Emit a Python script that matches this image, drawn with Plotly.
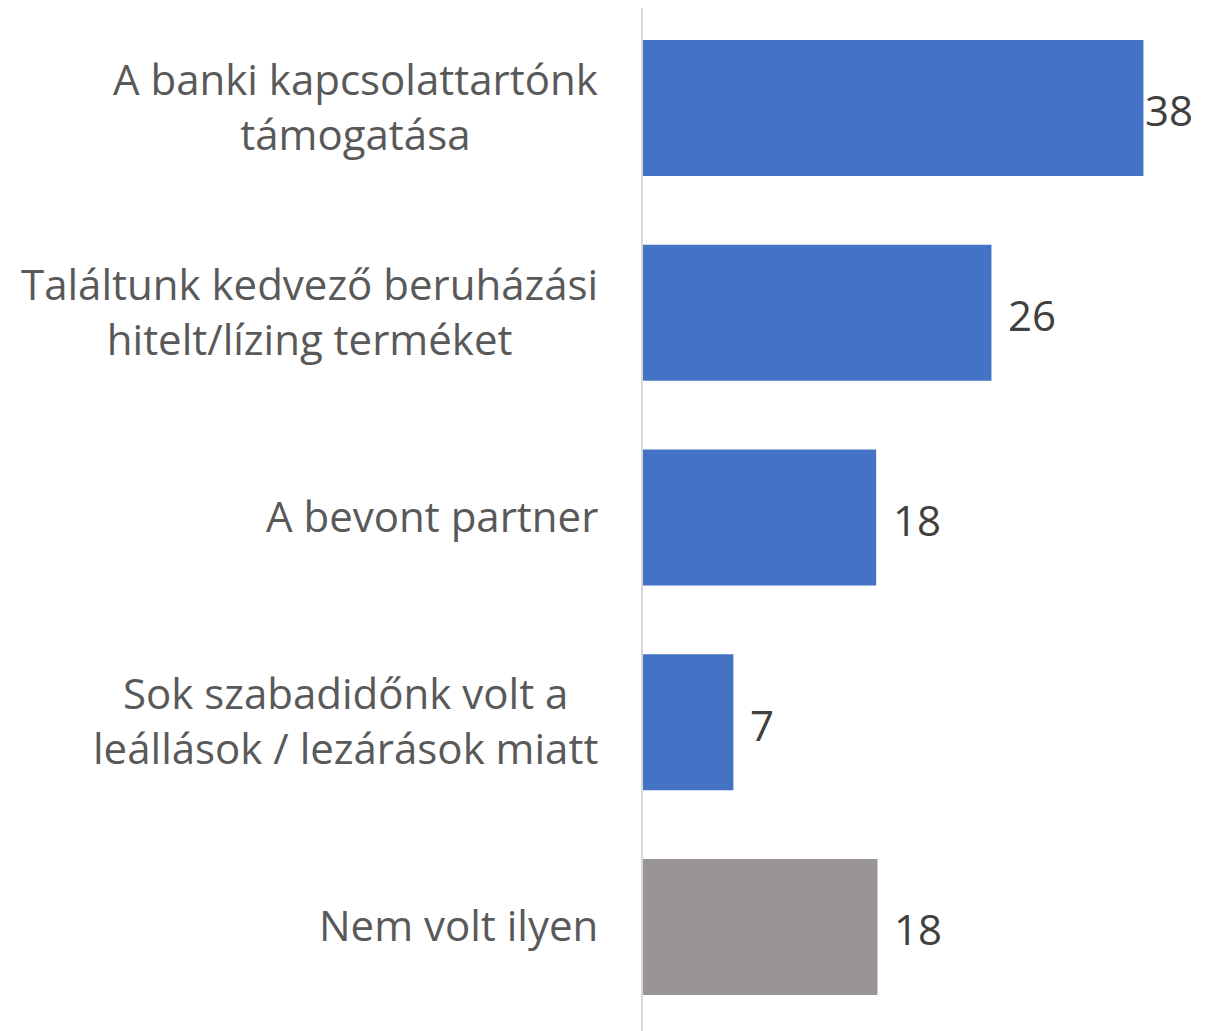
import plotly.graph_objects as go

categories = [
    "A banki kapcsolattartónk<br>támogatása",
    "Találtunk kedvező beruházási<br>hitelt/lízing terméket",
    "A bevont partner",
    "Sok szabadidőnk volt a<br>leállások / lezárások miatt",
    "Nem volt ilyen",
]
values = [38.2, 26.6, 17.8, 6.9, 17.9]
value_labels = ["38", "26", "18", "7", "18"]
bar_colors = ["#4472C4", "#4472C4", "#4472C4", "#4472C4", "#989594"]

FONT = "Open Sans"
label_shift = [0, 15, 15, 15, 15]

fig = go.Figure()
fig.add_trace(go.Bar(
    x=values,
    y=categories,
    orientation="h",
    marker=dict(color=bar_colors, line=dict(width=0)),
    hoverinfo="skip",
))

for cat, v, lab, s in zip(categories, values, value_labels, label_shift):
    fig.add_annotation(
        x=v, y=cat, xref="x", yref="y", text=lab, showarrow=False,
        xanchor="left", yanchor="middle", xshift=s, yshift=-2,
        font=dict(family=FONT, size=42, color="#404040"),
    )
    fig.add_annotation(
        x=0, y=cat, xref="paper", yref="y", text=cat, showarrow=False,
        xanchor="right", yanchor="middle", xshift=-43, yshift=2, align="center",
        font=dict(family=FONT, size=42, color="#595959"),
    )

fig.update_layout(
    width=1214, height=1031,
    margin=dict(l=635, r=0, t=0, b=0),
    paper_bgcolor="white", plot_bgcolor="white",
    showlegend=False,
    bargap=0.336,
    xaxis=dict(range=[0, 44.2], showgrid=False, zeroline=False,
               showticklabels=False, showline=False, fixedrange=True),
    yaxis=dict(range=[4.547, -0.488], showticklabels=False, showgrid=False,
               zeroline=False, showline=True, linecolor="#D9D9D9", linewidth=2,
               ticks="", fixedrange=True),
)

fig.write_html("out.html")
